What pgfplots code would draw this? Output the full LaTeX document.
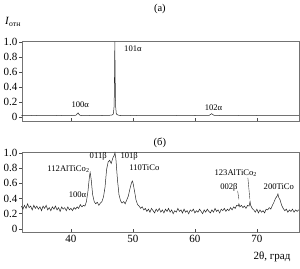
\documentclass[border=0pt]{standalone}
\usepackage{fontspec}
\setmainfont{Liberation Serif}
\usepackage{pgfplots}
\pgfplotsset{compat=1.18}
\tikzset{lbl/.style={font=\fontsize{8.6}{9}\selectfont, inner sep=0pt}}
\begin{document}
\begin{tikzpicture}
\path[use as bounding box] (0pt,0pt) rectangle (300pt,268pt);
\pgfplotsset{
  myax/.style={
    scale only axis, width=277pt, height=80pt,
    xmin=32.1, xmax=76.8,
    xtick={40,50,60,70},
    ytick={0,0.2,0.4,0.6,0.8,1.0},
    yticklabels={0,0.2,0.4,0.6,0.8,1.0},
    tick align=inside,
    major tick length=3pt,
    tick pos=left,
    y tick style={xshift=-3pt},
    axis line style={black!55, line width=0.7pt},
    tick style={black!70, line width=0.5pt},
    /pgf/number format/assume math mode=true,
    ticklabel style={font=\fontsize{11}{12}\selectfont},
    yticklabel style={xshift=-1pt},
    clip=false,
  },
}
% top panel
\begin{axis}[myax, at={(22pt,147pt)}, anchor=south west, ymin=-0.053, ymax=1.01, xticklabels={}]
\addplot[black!85, line width=0.5pt] coordinates {
(32.0,0.020)(33.0,0.018)(34.0,0.021)(35.0,0.019)(36.0,0.020)(37.0,0.018)(38.0,0.021)(39.0,0.019)(40.0,0.020)
(40.7,0.021)(40.9,0.030)(41.05,0.048)(41.15,0.055)(41.3,0.035)(41.5,0.021)(42.0,0.019)(43.0,0.020)(44.0,0.021)(45.0,0.020)(46.0,0.022)(46.6,0.025)
(46.85,0.04)(46.97,0.15)(47.03,0.55)(47.08,1.0)(47.13,0.55)(47.2,0.15)(47.32,0.04)(47.6,0.025)
(48.0,0.020)(49.0,0.019)(50.0,0.021)(52.0,0.018)(54.0,0.020)(56.0,0.019)(58.0,0.021)(60.0,0.020)(61.5,0.021)(62.3,0.022)
(62.55,0.035)(62.7,0.045)(62.85,0.035)(63.1,0.022)(64.0,0.020)(66.0,0.019)(68.0,0.021)(70.0,0.020)(72.0,0.019)(74.0,0.020)(76.8,0.019)
};
\node[lbl] at (axis cs:41.5,0.17) {100α};
\node[lbl] at (axis cs:50.0,0.91) {101α};
\node[lbl] at (axis cs:63.0,0.13) {102α};
\node[font=\fontsize{10.5}{11}\selectfont] at (axis cs:54.35,1.43) {(а)};
\end{axis}
% bottom panel
\begin{axis}[myax, at={(22pt,36pt)}, anchor=south west, ymin=-0.04, ymax=1.01]
\addplot[black!85, line width=0.5pt] coordinates {
(32.00,0.30)(32.25,0.26)(32.50,0.31)(32.75,0.27)(33.00,0.33)(33.25,0.28)(33.50,0.30)(33.75,0.25)
(34.00,0.31)(34.25,0.27)(34.50,0.30)(34.75,0.26)(35.00,0.29)(35.25,0.24)(35.50,0.30)(35.75,0.27)
(36.00,0.31)(36.25,0.25)(36.50,0.28)(36.75,0.24)(37.00,0.29)(37.25,0.26)(37.50,0.30)(37.75,0.25)
(38.00,0.28)(38.25,0.23)(38.50,0.29)(38.75,0.26)(39.00,0.28)(39.25,0.24)(39.50,0.29)(39.75,0.25)
(40.00,0.27)(40.25,0.24)(40.50,0.28)(40.75,0.26)(41.00,0.29)(41.25,0.27)(41.50,0.32)(41.75,0.29)
(42.00,0.31)(42.25,0.30)(42.50,0.36)(42.75,0.50)(43.00,0.70)(43.10,0.74)(43.25,0.66)(43.50,0.45)
(43.75,0.36)(44.00,0.33)(44.25,0.35)(44.50,0.31)(44.75,0.34)(45.00,0.36)(45.25,0.42)(45.50,0.55)
(45.75,0.78)(46.00,0.88)(46.25,0.90)(46.50,0.86)(46.75,0.93)(47.00,0.97)(47.10,1.00)(47.25,0.92)
(47.50,0.65)(47.75,0.45)(48.00,0.37)(48.25,0.34)(48.50,0.36)(48.75,0.33)(49.00,0.38)(49.25,0.43)
(49.50,0.52)(49.75,0.60)(49.90,0.63)(50.00,0.61)(50.25,0.50)(50.50,0.38)(50.75,0.32)(51.00,0.30)
(51.25,0.27)(51.50,0.29)(51.75,0.25)(52.00,0.27)(52.25,0.23)(52.50,0.26)(52.75,0.22)(53.00,0.27)
(53.25,0.24)(53.50,0.21)(53.75,0.26)(54.00,0.23)(54.25,0.27)(54.50,0.22)(54.75,0.25)(55.00,0.21)
(55.25,0.26)(55.50,0.23)(55.75,0.27)(56.00,0.22)(56.25,0.25)(56.50,0.20)(56.75,0.24)(57.00,0.22)
(57.25,0.27)(57.50,0.23)(57.75,0.25)(58.00,0.21)(58.25,0.26)(58.50,0.22)(58.75,0.24)(59.00,0.20)
(59.25,0.25)(59.50,0.23)(59.75,0.26)(60.00,0.21)(60.25,0.24)(60.50,0.22)(60.75,0.26)(61.00,0.23)
(61.25,0.20)(61.50,0.25)(61.75,0.22)(62.00,0.26)(62.25,0.23)(62.50,0.21)(62.75,0.25)(63.00,0.22)
(63.25,0.27)(63.50,0.23)(63.75,0.25)(64.00,0.21)(64.25,0.26)(64.50,0.24)(64.75,0.27)(65.00,0.23)
(65.25,0.26)(65.50,0.24)(65.75,0.28)(66.00,0.25)(66.25,0.29)(66.50,0.27)(66.75,0.31)(67.00,0.30)
(67.10,0.33)(67.25,0.29)(67.50,0.31)(67.75,0.28)(68.00,0.30)(68.25,0.27)(68.50,0.31)(68.75,0.30)
(68.90,0.36)(69.00,0.31)(69.25,0.27)(69.50,0.25)(69.75,0.22)(70.00,0.26)(70.25,0.21)(70.50,0.25)
(70.75,0.22)(71.00,0.24)(71.25,0.21)(71.50,0.26)(71.75,0.25)(72.00,0.28)(72.25,0.26)(72.50,0.31)
(72.75,0.35)(73.00,0.40)(73.25,0.43)(73.40,0.46)(73.50,0.42)(73.75,0.38)(74.00,0.31)(74.25,0.27)
(74.50,0.24)(74.75,0.26)(75.00,0.22)(75.25,0.25)(75.50,0.23)(75.75,0.26)(76.00,0.22)(76.25,0.25)
(76.50,0.23)(76.75,0.25)
};
\node[lbl] at (axis cs:39.6,0.79) {112AlTiCo\textsubscript{2}};
\node[lbl] at (axis cs:44.4,0.95) {011β};
\node[lbl] at (axis cs:49.4,0.95) {101β};
\node[lbl] at (axis cs:51.85,0.80) {110TiCo};
\node[lbl] at (axis cs:41.05,0.45) {100α};
\node[lbl] at (axis cs:66.6,0.74) {123AlTiCo\textsubscript{2}};
\node[lbl] at (axis cs:65.5,0.55) {002β};
\node[lbl] at (axis cs:73.55,0.55) {200TiCo};
\draw[black!80, line width=0.4pt] (axis cs:68.55,0.67) -- (axis cs:68.87,0.39);
\draw[black!80, line width=0.4pt] (axis cs:66.9,0.50) -- (axis cs:67.1,0.39);
\node[font=\fontsize{10.5}{11}\selectfont] at (axis cs:54.35,1.13) {(б)};
\end{axis}
\node[font=\fontsize{11}{12}\selectfont] at (13pt,246pt) {\textit{I}\textsubscript{отн}};
\node[font=\fontsize{11}{12}\selectfont] at (272pt,11pt) {2θ, град};
\end{tikzpicture}
\end{document}
